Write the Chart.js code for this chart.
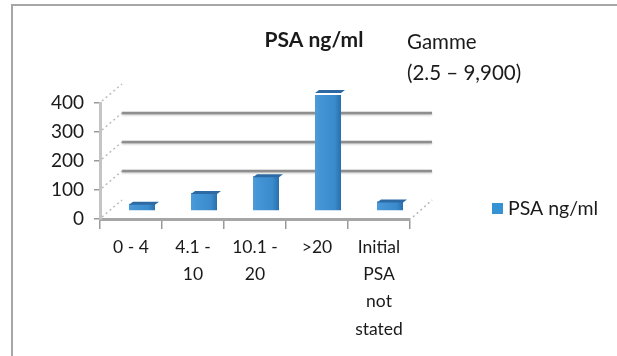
<!DOCTYPE html>
<html>
<head>
<meta charset="utf-8">
<script src="https://cdn.jsdelivr.net/npm/chart.js@4/dist/chart.umd.min.js"></script>
<style>
  html, body { margin: 0; padding: 0; background: #fff; }
  #wrap { width: 617px; height: 356px; }
</style>
</head>
<body>
<div id="wrap"><canvas id="c" width="617" height="356"></canvas></div>
<script>
// PSA ranges (ng/ml) and number of patients in each
const categories = [['0 - 4'], ['4.1 -', '10'], ['10.1 -', '20'], ['>20'], ['Initial', 'PSA', 'not', 'stated']];
const psaCounts = [25, 62, 120, 410, 33];
const seriesLabel = 'PSA ng/ml';
const chartTitle = 'PSA ng/ml';
const rangeNote = ['Gamme', '(2.5 \u2013 9,900)'];
const yTicks = [0, 100, 200, 300, 400];

const FONT = 'Lato, "Open Sans", sans-serif';
const DEPTH_X = 22, DEPTH_Y = -19;   // back wall offset of the pseudo-3D box
const BAR_X = 11, BAR_Y = -8;        // bars sit half way into the box

// Frame, back-wall gridlines, perspective edges
const boxPlugin = {
  id: 'box3d',
  beforeDraw(chart) {
    const { ctx, chartArea: a, scales: { y } } = chart;
    ctx.save();
    ctx.fillStyle = '#fff';
    ctx.fillRect(0, 0, chart.width, chart.height);
    // outer frame
    ctx.strokeStyle = '#a6a6a6';
    ctx.lineWidth = 2;
    ctx.strokeRect(12, 5, chart.width + 10, chart.height + 10);

    // back wall gridlines
    ctx.strokeStyle = '#8e8e8e';
    ctx.lineWidth = 2.6;
    ctx.shadowColor = 'rgba(0,0,0,0.25)';
    ctx.shadowBlur = 2;
    ctx.shadowOffsetY = 1;
    [100, 200, 300].forEach(v => {
      const py = Math.round(y.getPixelForValue(v) + DEPTH_Y);
      ctx.beginPath();
      ctx.moveTo(a.left + DEPTH_X, py);
      ctx.lineTo(a.right + DEPTH_X, py);
      ctx.stroke();
    });
    ctx.shadowColor = 'transparent';

    // dotted perspective edges
    ctx.strokeStyle = '#b8b8b8';
    ctx.lineWidth = 1.5;
    ctx.setLineDash([2, 3]);
    yTicks.forEach(v => {
      const py = y.getPixelForValue(v);
      ctx.beginPath();
      ctx.moveTo(a.left + 2, py - 2);
      ctx.lineTo(a.left + DEPTH_X, py + DEPTH_Y);
      ctx.stroke();
    });
    ctx.beginPath();
    ctx.moveTo(a.right + 3, a.bottom - 2);
    ctx.lineTo(a.right + DEPTH_X, a.bottom + DEPTH_Y);
    ctx.stroke();
    ctx.restore();
  },
  beforeDatasetsDraw(chart) {
    chart.ctx.save();
    chart.ctx.translate(BAR_X, BAR_Y);
  },
  afterDatasetsDraw(chart) {
    const { ctx } = chart;
    // top faces of the columns
    chart.getDatasetMeta(0).data.forEach(bar => {
      const l = bar.x - bar.width / 2, r = bar.x + bar.width / 2, t = bar.y;
      ctx.fillStyle = '#2d6aa3';
      ctx.beginPath();
      ctx.moveTo(l, t + 1);
      ctx.lineTo(r, t + 1);
      ctx.lineTo(r + 4, t - 2);
      ctx.lineTo(l + 4, t - 2);
      ctx.closePath();
      ctx.fill();
    });
    ctx.restore();
  },
  afterDraw(chart) {
    const { ctx } = chart;
    ctx.save();
    ctx.fillStyle = '#1a1a1a';
    ctx.textBaseline = 'middle';
    ctx.textAlign = 'center';
    ctx.font = 'bold 21px ' + FONT;
    ctx.fillText(chartTitle, 314, 40);
    ctx.textAlign = 'left';
    ctx.font = '20.5px ' + FONT;
    ctx.fillText(rangeNote[0], 407, 42);
    ctx.fillText(rangeNote[1], 407, 73);
    // legend
    const ds = chart.data.datasets[0];
    ctx.fillStyle = '#3592d3';
    ctx.fillRect(492, 203, 11, 11);
    ctx.fillStyle = '#1a1a1a';
    ctx.font = '19.5px ' + FONT;
    ctx.fillText(ds.label, 508, 209);
    ctx.restore();
  }
};

function barFill(c) {
  const chart = c.chart;
  const xs = chart.scales && chart.scales.x;
  if (!xs || c.dataIndex === undefined) return '#3a8dd0';
  const cx = xs.getPixelForValue(c.dataIndex);
  if (!isFinite(cx)) return '#3a8dd0';
  const g = chart.ctx.createLinearGradient(cx - 13, 0, cx + 13, 0);
  g.addColorStop(0, '#4f9bd8');
  g.addColorStop(0.15, '#4696d6');
  g.addColorStop(0.75, '#3a8bcc');
  g.addColorStop(1, '#2a6fae');
  return g;
}

new Chart(document.getElementById('c'), {
  type: 'bar',
  data: {
    labels: categories,
    datasets: [{
      label: seriesLabel,
      data: psaCounts,
      backgroundColor: barFill,
      borderWidth: 0,
      categoryPercentage: 1,
      barPercentage: 0.42
    }]
  },
  options: {
    responsive: false,
    animation: false,
    layout: { padding: { top: 103, right: 207, left: 0, bottom: 0 } },
    plugins: { legend: { display: false }, title: { display: false }, tooltip: { enabled: false } },
    scales: {
      x: {
        afterFit(s) { s.height = 137; },
        grid: { display: true, drawOnChartArea: false, drawTicks: true, tickLength: 10, color: '#9a9a9a', lineWidth: 1.5, offset: true },
        border: { display: true, color: '#a6a6a6', width: 3 },
        ticks: { color: '#1a1a1a', font: { family: FONT, size: 17.5, lineHeight: 1.55 }, padding: 5, maxRotation: 0, autoSkip: false }
      },
      y: {
        min: 0, max: 400,
        afterFit(s) { s.width = 100; },
        afterBuildTicks(s) { s.ticks = yTicks.map(v => ({ value: v })); },
        grid: { display: true, drawOnChartArea: false, drawTicks: true, tickLength: 6, color: '#9a9a9a', lineWidth: 1.5 },
        border: { display: true, color: '#c4c4c4', width: 3 },
        ticks: { color: '#1a1a1a', font: { family: FONT, size: 19 }, padding: 10 }
      }
    }
  },
  plugins: [boxPlugin]
});
</script>
</body>
</html>
